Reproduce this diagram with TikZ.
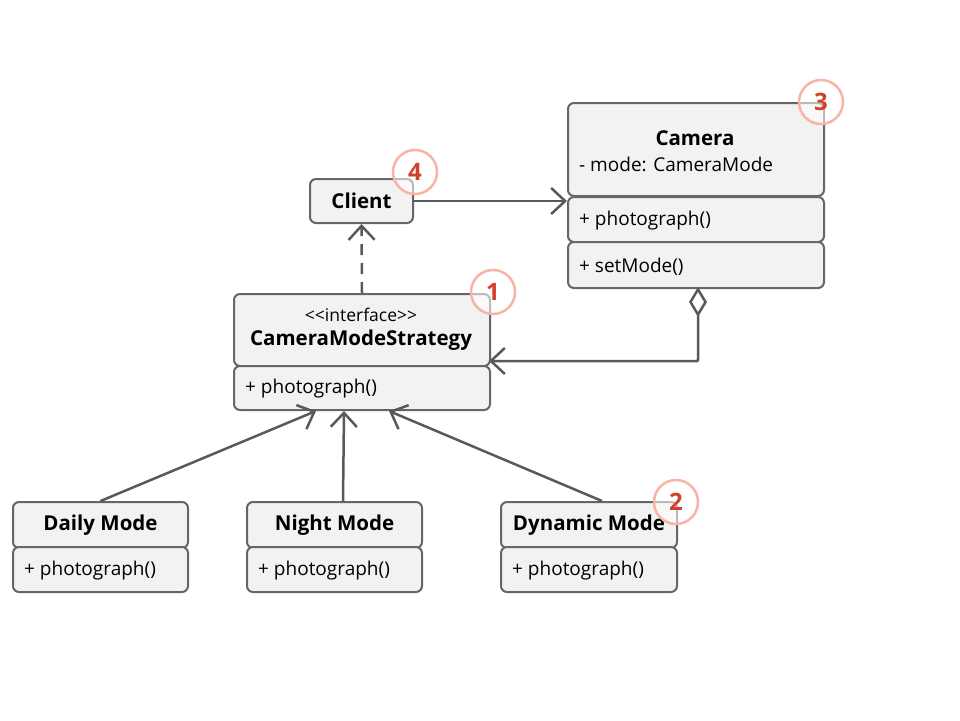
\documentclass[tikz,border=0pt]{standalone}
\usepackage{fontspec}
\setmainfont{Open Sans}
\usetikzlibrary{arrows.meta}
\definecolor{boxfill}{HTML}{F2F2F2}
\definecolor{boxline}{HTML}{666666}
\definecolor{linkline}{HTML}{595959}
\definecolor{badgering}{HTML}{F8B4A6}
\definecolor{badgetext}{HTML}{D2412B}
\tikzstyle{box}=[draw=boxline,fill=boxfill,line width=2pt,rounded corners=6pt,anchor=north west,inner sep=0pt]
\tikzstyle{title}=[font=\fontsize{20.5}{24}\selectfont\bfseries,inner sep=0pt]
\tikzstyle{member}=[font=\fontsize{19}{23}\selectfont,inner sep=0pt,anchor=west,yshift=-2pt]
\tikzstyle{link}=[draw=linkline,line width=2.5pt,-{Straight Barb[length=14pt,width=26pt,line width=2.5pt]}]
\tikzstyle{badge}=[circle,draw=badgering,line width=2.5pt,fill=white,fill opacity=0.55,text opacity=1,minimum size=44pt,inner sep=0pt,text=badgetext,font=\fontsize{24}{28}\selectfont\bfseries]

\begin{document}
\begin{tikzpicture}[x=1pt,y=-1pt]
      \useasboundingbox (0,0) rectangle (960,720);

      % Camera
      \node[box,minimum width=256pt,minimum height=93pt] (camtop) at (567,102) {};
      \node[box,minimum width=256pt,minimum height=45pt] (camphoto) at (567,196) {};
      \node[box,minimum width=256pt,minimum height=46pt] (camset) at (567,241) {};
      \node[title] (camname) at (695,138) {Camera};
      \node[member] (camattr) at (579,162) {- mode: CameraMode};
      \node[member] (camop1) at (579,219) {+ photograph()};
      \node[member] (camop2) at (579,265) {+ setMode()};

      % Client
      \node[box,minimum width=103pt,minimum height=44pt] (client) at (309,178) {};
      \node[title] (clientname) at (client.center) {Client};

      % CameraModeStrategy
      \node[box,minimum width=256pt,minimum height=72pt] (cmstop) at (233,293) {};
      \node[box,minimum width=256pt,minimum height=44pt] (cmsops) at (233,365) {};
      \node[inner sep=0pt,font=\fontsize{17.5}{20}\selectfont] (cmsstereo) at (361,315) {<{}<interface>{}>};
      \node[title] (cmsname) at (361,340) {CameraModeStrategy};
      \node[member] (cmsop) at (245,387) {+ photograph()};

      % modes
      \node[box,minimum width=175pt,minimum height=46pt] (dailytop) at (12,501) {};
      \node[box,minimum width=175pt,minimum height=45pt] (dailyops) at (12,546) {};
      \node[title] (dailyname) at (dailytop.center) {Daily Mode};
      \node[member] (dailyop) at (24,569) {+ photograph()};

      \node[box,minimum width=175pt,minimum height=46pt] (nighttop) at (246,501) {};
      \node[box,minimum width=175pt,minimum height=45pt] (nightops) at (246,546) {};
      \node[title] (nightname) at (nighttop.center) {Night Mode};
      \node[member] (nightop) at (258,569) {+ photograph()};

      \node[box,minimum width=176pt,minimum height=46pt] (dyntop) at (500,501) {};
      \node[box,minimum width=176pt,minimum height=45pt] (dynops) at (500,546) {};
      \node[title] (dynname) at (dyntop.center) {Dynamic Mode};
      \node[member] (dynop) at (512,569) {+ photograph()};

      % connectors
      \draw[link] (client.east) -- (client.east -| camphoto.west);
      \draw[link,dash pattern=on 11pt off 8pt] (cmstop.north) -- (client.south);

      \coordinate (aggtop) at (698,287);
      \coordinate (cmsright) at (489,361);
      \draw[link,{Diamond[open,length=30pt,width=18pt,line width=2.5pt]}-{Straight Barb[length=14pt,width=26pt,line width=2.5pt]},rounded corners=1pt] (aggtop) |- (cmsright);

      \draw[link] (dailytop.north) -- ([xshift=-46pt]cmsops.south);
      \draw[link] (nighttop.north -| 343,0) -- ([xshift=-18pt]cmsops.south);
      \draw[link] (dyntop.north -| 602,0) -- ([xshift=27pt]cmsops.south);

      % badges
      \node[badge] (b1) at (493,292) {1};
      \node[badge] (b2) at (676,502) {2};
      \node[badge] (b3) at (821,102) {3};
      \node[badge] (b4) at (415,172) {4};

    \end{tikzpicture}
\end{document}
